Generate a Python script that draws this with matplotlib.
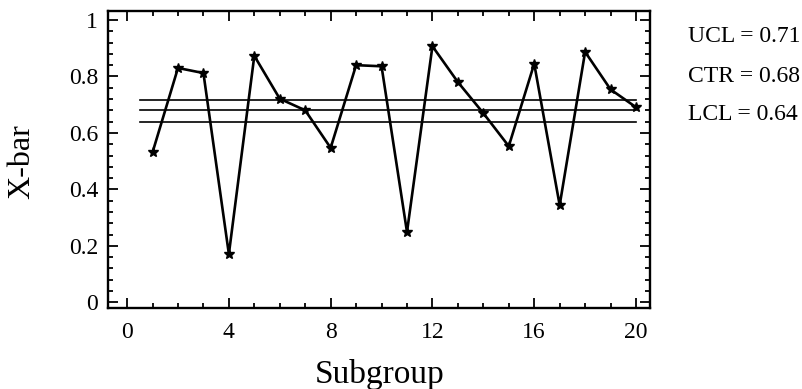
import matplotlib
matplotlib.use("Agg")
import matplotlib.pyplot as plt
from matplotlib.ticker import MultipleLocator

subgroups = list(range(1, 21))
xbar = [0.531, 0.830, 0.812, 0.171, 0.873, 0.721, 0.680, 0.547, 0.840, 0.836,
        0.249, 0.907, 0.780, 0.670, 0.553, 0.845, 0.344, 0.887, 0.754, 0.691]
ucl, ctr, lcl = 0.715, 0.680, 0.638
limit_labels = ["UCL = 0.71", "CTR = 0.68", "LCL = 0.64"]
x_ticks = [0, 4, 8, 12, 16, 20]
y_ticks = [0, 0.2, 0.4, 0.6, 0.8, 1.0]
y_tick_labels = ["0", "0.2", "0.4", "0.6", "0.8", "1"]

plt.rcParams['font.family'] = ['Liberation Serif', 'DejaVu Serif']

W, H = 803, 389
fig = plt.figure(figsize=(W / 100, H / 100), dpi=100)
ax = fig.add_axes([108 / W, (H - 308) / H, 542 / W, (308 - 11.5) / H])

for v in (ucl, ctr, lcl):
    ax.plot([0.5, 20], [v, v], color='black', lw=1.2)

ax.plot(subgroups, xbar, color='black', lw=1.9, marker='*', ms=7.5,
        mec='black', mfc='black')

ax.set_xlim(-0.75, 20.55)
ax.set_ylim(-0.02, 1.03)
ax.set_xticks(x_ticks)
ax.set_yticks(y_ticks)
ax.set_yticklabels(y_tick_labels)
ax.xaxis.set_minor_locator(MultipleLocator(1))
ax.yaxis.set_minor_locator(MultipleLocator(0.04))
ax.tick_params(which='both', direction='in', top=True, right=True,
               width=1.3, labelsize=17)
ax.tick_params(which='major', length=7)
ax.tick_params(which='minor', length=3.5)
ax.tick_params(axis='x', pad=10)
ax.tick_params(axis='y', pad=7)
for s in ax.spines.values():
    s.set_linewidth(1.7)

fig.text(22 / W, 1 - 162 / H, "X-bar", rotation=90, ha='center', va='center',
         fontsize=23)
fig.text(380 / W, 1 - 374 / H, "Subgroup", ha='center', va='center', fontsize=24)

for lab, yy in zip(limit_labels, [36, 76, 115]):
    fig.text(688 / W, 1 - yy / H, lab, ha='left', va='center', fontsize=17)

fig.savefig("out.png", dpi=100)
